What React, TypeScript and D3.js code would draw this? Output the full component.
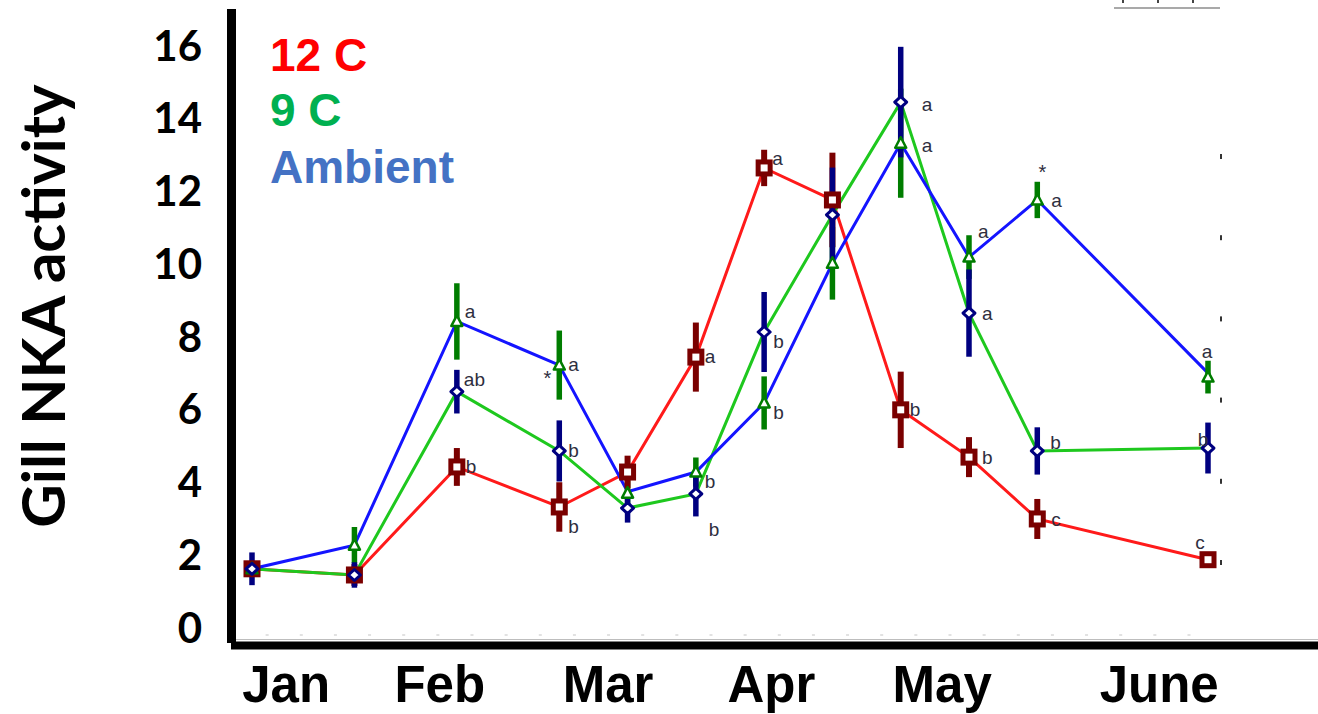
import React from "react";
import * as d3 from "d3";

// ---- data ----
const SAMPLE_DAYS = [0, 21, 42, 63, 77, 91, 105, 119, 133, 147, 161, 196];
const MONTHS = ["Jan", "Feb", "Mar", "Apr", "May", "June"];
const MONTH_DAYS = [7, 38.5, 73, 106.5, 141.5, 186];
const Y_TICKS = [0, 2, 4, 6, 8, 10, 12, 14, 16];

// 12 C markers (squares)
const SQ_MEAN = [1.6, 1.43, 4.4, 3.3, 4.26, 7.42, 12.62, 11.74, 5.97, 4.67, 2.97, 1.85];
const SQ_ERR = [0.2, 0.3, 0.52, 0.68, 0.45, 0.95, 0.5, 1.3, 1.05, 0.55, 0.55, 0.15];
// 9 C markers (triangles)
const TRI_MEAN = [1.6, 2.25, 8.4, 7.2, 3.68, 4.26, 6.16, 10.0, 13.3, 10.17, 11.74, 6.87];
const TRI_ERR = [0.2, 0.5, 1.05, 0.95, 0.35, 0.4, 0.73, 1.0, 1.5, 0.6, 0.5, 0.45];
// Ambient markers (diamonds)
const DIA_MEAN = [1.6, 1.43, 6.47, 4.84, 3.27, 3.66, 8.11, 11.33, 14.43, 8.63, 4.84, 4.92];
const DIA_ERR = [0.45, 0.35, 0.6, 0.84, 0.4, 0.62, 1.1, 1.3, 1.52, 1.2, 0.65, 0.7];

// connecting lines as drawn in the figure
const RED_LINE = SQ_MEAN;
const GREEN_LINE = DIA_MEAN;
const BLUE_LINE = [1.6, 2.25, 8.4, 7.2, 3.72, 4.26, 6.16, 10.0, 13.3, 10.17, 11.74, 6.98];

const LEGEND = ["12 C", "9 C", "Ambient"];

// significance letters: sample index, marker series, text, placement
const LETTERS = [
  { i: 2, s: "tri", t: "a", at: "ur" },
  { i: 2, s: "dia", t: "ab", at: "ur2" },
  { i: 2, s: "sq", t: "b", at: "r" },
  { i: 3, s: "tri", t: "a", at: "r" },
  { i: 3, s: "tri", t: "*", at: "starL" },
  { i: 3, s: "dia", t: "b", at: "r" },
  { i: 3, s: "sq", t: "b", at: "dr" },
  { i: 5, s: "tri", t: "b", at: "lr" },
  { i: 5, s: "dia", t: "b", at: "ddr" },
  { i: 5, s: "sq", t: "a", at: "r" },
  { i: 6, s: "sq", t: "a", at: "ur" },
  { i: 6, s: "dia", t: "b", at: "lr" },
  { i: 6, s: "tri", t: "b", at: "lr" },
  { i: 8, s: "dia", t: "a", at: "fr" },
  { i: 8, s: "tri", t: "a", at: "fr" },
  { i: 8, s: "sq", t: "b", at: "r" },
  { i: 9, s: "tri", t: "a", at: "uur" },
  { i: 9, s: "dia", t: "a", at: "r2" },
  { i: 9, s: "sq", t: "b", at: "r2" },
  { i: 10, s: "tri", t: "a", at: "r3" },
  { i: 10, s: "tri", t: "*", at: "starU" },
  { i: 10, s: "dia", t: "b", at: "ur3" },
  { i: 10, s: "sq", t: "c", at: "r3" },
  { i: 11, s: "tri", t: "a", at: "u" },
  { i: 11, s: "dia", t: "b", at: "ul" },
  { i: 11, s: "sq", t: "c", at: "uul" },
];

const PLACE: Record<string, [number, number, string]> = {
  r: [9, 0, "start"],
  r2: [13, 1, "start"],
  r3: [14, 1, "start"],
  ur: [8, -9, "start"],
  ur2: [7, -12, "start"],
  ur3: [13, -8, "start"],
  lr: [9, 10, "start"],
  dr: [9, 20, "start"],
  ddr: [13, 36, "start"],
  fr: [21, 3, "start"],
  uur: [9, -25, "start"],
  u: [-1, -25, "middle"],
  ul: [-5, -8, "middle"],
  uul: [-8, -17, "middle"],
  starL: [-12, 8, "middle"],
  starU: [5, -33, "middle"],
};

const W = 1318;
const H = 714;

export default function App() {
  const x = d3.scaleLinear().domain([0, 196]).range([252, 1208]);
  const y = d3.scaleLinear().domain([0, 16]).range([627, 45]);
  const line = d3
    .line<number>()
    .x((_, i) => x(SAMPLE_DAYS[i]))
    .y((v) => y(v));

  const series: Record<string, { mean: number[]; err: number[] }> = {
    sq: { mean: SQ_MEAN, err: SQ_ERR },
    tri: { mean: TRI_MEAN, err: TRI_ERR },
    dia: { mean: DIA_MEAN, err: DIA_ERR },
  };

  const bar = (key: string, color: string, w: number) =>
    series[key].mean.map((m, i) => (
      <line
        key={key + i}
        x1={x(SAMPLE_DAYS[i])}
        x2={x(SAMPLE_DAYS[i])}
        y1={y(m + series[key].err[i])}
        y2={y(m - series[key].err[i])}
        stroke={color}
        strokeWidth={w}
      />
    ));

  const weekTicks = d3.range(3, 197, 7);
  const rightTicks = d3.range(157, 570, 81.2);
  const sans = "'Liberation Sans', Arial, Helvetica, sans-serif";

  return (
    <svg
      width={W}
      height={H}
      style={{ position: "absolute", left: 0, top: 0, background: "#fff" }}
    >
      <rect x={0} y={0} width={W} height={H} fill="#fff" />

      {/* faint weekly dots and grey baseline */}
      {weekTicks.map((d) => (
        <rect key={"wt" + d} x={x(d) - 1} y={634} width={3} height={2} fill="#e2e2e2" />
      ))}
      <line x1={235} x2={W} y1={639.5} y2={639.5} stroke="#bdbdbd" strokeWidth={1} />

      {/* stray marks from the adjoining panel */}
      <line x1={1114} x2={1220} y1={8} y2={8} stroke="#555" strokeWidth={1.2} />
      {[1122, 1157, 1192].map((t) => (
        <rect key={"tt" + t} x={t} y={0} width={2} height={3} fill="#444" />
      ))}
      {rightTicks.map((t) => (
        <rect key={"rt" + t} x={1220} y={t - 3} width={2} height={5} fill="#333" />
      ))}

      {/* axes */}
      <rect x={227} y={9} width={9} height={634} fill="#000" />
      <rect x={231} y={641.5} width={W - 231} height={8} fill="#000" />

      {/* y tick labels */}
      {Y_TICKS.map((t) => (
        <text
          key={"yt" + t}
          x={202}
          y={y(t) + 15.5}
          textAnchor="end"
          fontFamily="Lato, 'Open Sans', sans-serif"
          fontWeight={700}
          fontSize={42}
          fill="#000"
        >
          {t}
        </text>
      ))}

      {/* y title */}
      <text
        transform="translate(65,306) rotate(-90)"
        textAnchor="middle"
        fontFamily="Lato, 'Open Sans', sans-serif"
        fontWeight={700}
        fontSize={60}
        fill="#000"
      >
        Gill NKA activity
      </text>

      {/* month labels */}
      {MONTHS.map((m, i) => (
        <text
          key={m}
          x={x(MONTH_DAYS[i])}
          y={702}
          textAnchor="middle"
          fontFamily={sans}
          fontWeight={700}
          fontSize={51}
          fill="#000"
        >
          {m}
        </text>
      ))}

      {/* legend */}
      {LEGEND.map((l, i) => (
        <text
          key={l}
          x={270}
          y={[71, 126, 183][i]}
          fontFamily={sans}
          fontWeight={700}
          fontSize={46}
          fill={["#ff0000", "#00b050", "#4472c4"][i]}
        >
          {l}
        </text>
      ))}

      {/* connecting lines */}
      <path d={line(RED_LINE) || ""} fill="none" stroke="#ff1a1a" strokeWidth={3} />
      <path d={line(GREEN_LINE) || ""} fill="none" stroke="#1ec81e" strokeWidth={3} />
      <path d={line(BLUE_LINE) || ""} fill="none" stroke="#1414ff" strokeWidth={3} />

      {/* error bars */}
      {bar("tri", "#007d00", 5.5)}
      {bar("sq", "#7a0000", 6)}
      {bar("dia", "#000080", 5.5)}

      {/* markers */}
      {SQ_MEAN.map((m, i) => (
        <rect
          key={"sq" + i}
          x={x(SAMPLE_DAYS[i]) - 6}
          y={y(m) - 6}
          width={12}
          height={12}
          fill="#fff"
          stroke="#7a0000"
          strokeWidth={5}
        />
      ))}
      {TRI_MEAN.map((m, i) => {
        const cx = x(SAMPLE_DAYS[i]);
        const cy = y(m);
        return (
          <path
            key={"tri" + i}
            d={`M${cx},${cy - 6} L${cx + 5.5},${cy + 4.5} L${cx - 5.5},${cy + 4.5} Z`}
            fill="#fff"
            stroke="#007d00"
            strokeWidth={2.5}
            strokeLinejoin="round"
          />
        );
      })}
      {DIA_MEAN.map((m, i) => {
        const cx = x(SAMPLE_DAYS[i]);
        const cy = y(m);
        return (
          <path
            key={"dia" + i}
            d={`M${cx},${cy - 5.5} L${cx + 6},${cy} L${cx},${cy + 5.5} L${cx - 6},${cy} Z`}
            fill="#fff"
            stroke="#000080"
            strokeWidth={3}
            strokeLinejoin="round"
          />
        );
      })}

      {/* letters */}
      {LETTERS.map((L, k) => {
        const [dx, dy, anchor] = PLACE[L.at];
        const cx = x(SAMPLE_DAYS[L.i]) + dx;
        const cy = y(series[L.s].mean[L.i]) + dy;
        const star = L.t === "*";
        return (
          <text
            key={"L" + k}
            x={cx}
            y={cy + (star ? 12 : 6)}
            textAnchor={anchor}
            fontFamily={sans}
            fontSize={star ? 20 : 19}
            fill="#2e2e3e"
          >
            {L.t}
          </text>
        );
      })}
    </svg>
  );
}
